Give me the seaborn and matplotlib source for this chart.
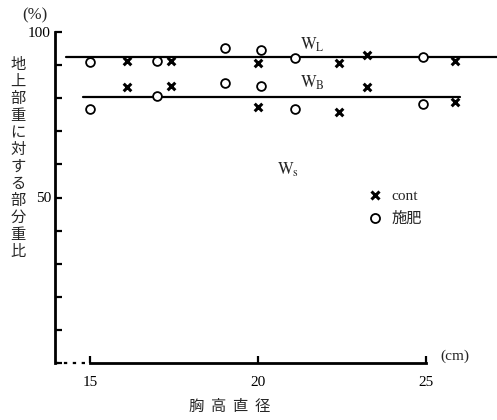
import matplotlib
matplotlib.use("Agg")
import matplotlib.pyplot as plt
import seaborn as sns
import pandas as pd
from matplotlib.lines import Line2D

sns.set_theme(style="white")
plt.rcParams['font.family'] = ['Liberation Serif', 'Noto Sans CJK JP']
plt.rcParams['mathtext.fontset'] = 'stix'

# ---- data ----
cont_dbh = [16.1, 17.4, 20.0, 22.4, 23.25, 25.85]
cont_WL = [91.3, 91.3, 90.6, 90.6, 93.1, 91.2]
cont_WB = [83.4, 83.7, 77.3, 75.8, 83.4, 78.9]
fert_dbh = [15.0, 17.0, 19.0, 20.07, 21.1, 24.9]
fert_WL = [91.0, 91.3, 95.2, 94.6, 92.1, 92.4]
fert_WB = [76.7, 80.7, 84.6, 83.7, 76.7, 78.2]
line_L_x = [14.3, 27.1]
line_L_y = [92.4, 92.4]
line_B_x = [14.8, 26.0]
line_B_y = [80.4, 80.4]
group_labels = ["cont", "施肥"]
x_ticks = [15, 20, 25]
y_ticks = [0, 10, 20, 30, 40, 50, 60, 70, 80, 90, 100]
y_labels = {50: "50", 100: "100"}

rows = []
for d, l, b in zip(cont_dbh, cont_WL, cont_WB):
    rows.append(dict(dbh=d, val=l, grp=group_labels[0]))
    rows.append(dict(dbh=d, val=b, grp=group_labels[0]))
for d, l, b in zip(fert_dbh, fert_WL, fert_WB):
    rows.append(dict(dbh=d, val=l, grp=group_labels[1]))
    rows.append(dict(dbh=d, val=b, grp=group_labels[1]))
df = pd.DataFrame(rows)

fig = plt.figure(figsize=(4.97, 4.2), dpi=100)
ax = fig.add_axes([55/497, 57/420, 442/497, 331/420])

sns.lineplot(x=line_L_x, y=line_L_y, ax=ax, color='black', lw=1.6, zorder=1)
sns.lineplot(x=line_B_x, y=line_B_y, ax=ax, color='black', lw=1.6, zorder=1)
for ln in ax.lines:
    ln.set_clip_on(False)

dc = df[df.grp == group_labels[0]]
df_ = df[df.grp == group_labels[1]]
sns.scatterplot(data=dc, x='dbh', y='val', ax=ax, marker='x', s=30,
                color='black', linewidth=2.2, zorder=3, legend=False)
sns.scatterplot(data=df_, x='dbh', y='val', ax=ax, marker='o', s=40,
                facecolor='white', edgecolor='black', linewidth=1.3, zorder=3,
                legend=False)

ax.set_xlim(13.96, 27.1)
ax.set_ylim(0, 100)
ax.set_xlabel("")
ax.set_ylabel("")

for s in ['top', 'right']:
    ax.spines[s].set_visible(False)
ax.spines['left'].set_linewidth(2.0)
ax.spines['bottom'].set_linewidth(2.0)
ax.spines['left'].set_color('black')
ax.spines['bottom'].set_color('black')
ax.spines['bottom'].set_bounds(15, 25)
ax.plot([13.96, 15], [0, 0], ls=(0, (1.5, 2.5)), color='black', lw=1.6,
        clip_on=False)

ax.set_yticks(y_ticks)
ax.set_yticklabels([y_labels.get(t, "") for t in y_ticks])
ax.set_xticks(x_ticks)
ax.set_xticklabels([str(t) for t in x_ticks])
ax.tick_params(axis='y', direction='in', length=5, width=1.6, pad=3,
               labelsize=11, colors='black', left=True)
ax.tick_params(axis='x', direction='in', length=5, width=1.6, pad=9,
               labelsize=11, colors='black', bottom=True)

ax.text(20.9, 58.3, r"$\mathrm{W_s}$", fontsize=12, ha='center', va='center')
ax.text(21.6, 96.0, r"$\mathrm{W_L}$", fontsize=12, ha='center', va='center')
ax.text(21.6, 84.6, r"$\mathrm{W_B}$", fontsize=12, ha='center', va='center')

handles = [Line2D([], [], ls='none', marker='x', color='black', ms=6, mew=2.2),
           Line2D([], [], ls='none', marker='o', mfc='white', mec='black',
                  ms=6.5, mew=1.3)]
ax.legend(handles, group_labels, loc='upper left',
          bbox_to_anchor=(0.675, 0.565), frameon=False,
          handletextpad=0.6, labelspacing=0.55, handlelength=1.0,
          prop={'family': ['Liberation Serif', 'Noto Sans CJK JP'], 'size': 11})

fig.text(35/497, 1 - 15/420, "(%)", fontsize=12, ha='center', va='center')
fig.text(455/497, 1 - 356/420, "(cm)", fontsize=11, ha='center', va='center')
fig.text(230/497, 1 - 406/420, "胸  高  直  径", fontsize=11, ha='center',
         va='center', family=['Noto Sans CJK JP'])
fig.text(18/497, 1 - 158/420, "\n".join("地上部重に対する部分重比"),
         fontsize=11, ha='center', va='center', linespacing=1.0,
         family=['Noto Sans CJK JP'])

fig.savefig("out.png", dpi=100)
